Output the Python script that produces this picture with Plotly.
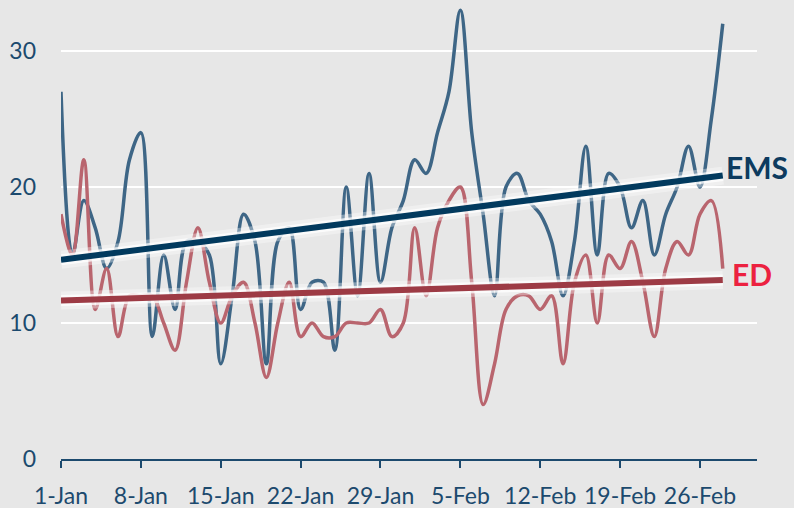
import numpy as np
import pandas as pd
import plotly.graph_objects as go

start_date = "2020-01-01"
n_days = 59
dates = pd.date_range(start_date, periods=n_days, freq="D")

ems = [27, 15, 19, 17, 14, 16, 22, 24, 9, 15,
       11, 16, 16, 15, 7, 12, 18, 16, 7, 16,
       17, 11, 13, 13, 8, 20, 12, 21, 13, 17,
       19, 22, 21, 24, 27, 33, 24, 18, 12, 20,
       21, 19, 18, 16, 12, 16, 23, 15, 21, 20,
       17, 19, 15, 18, 20, 23, 20, 25, 32]

ed = [18, 15, 22, 11, 14, 9, 12, 12, 12, 10,
      8, 13, 17, 13, 10, 12, 13, 10, 6, 10,
      13, 9, 10, 9, 9, 10, 10, 10, 11, 9,
      10, 17, 12, 17, 19, 20, 13, 4, 7, 11,
      12, 12, 11, 12, 7, 13, 15, 10, 15, 14,
      16, 13, 9, 14, 16, 15, 18, 19, 14]

y_ticks = [0, 10, 20, 30]

C_EMS = "#3e6686"
C_ED = "#b9656e"
C_EMS_TREND = "#023a5e"
C_ED_TREND = "#9d3b45"
C_EMS_LABEL = "#0d3b5f"
C_ED_LABEL = "#ec2140"
C_AXIS = "#1c4a6e"
BG = "#e7e7e7"

idx = np.arange(n_days)


def trend(vals):
    k, b = np.polyfit(idx, np.array(vals, dtype=float), 1)
    return k * idx + b


ems_tr = trend(ems)
ed_tr = trend(ed)

fig = go.Figure()

# data series (smoothed)
fig.add_trace(go.Scatter(x=dates, y=ems, mode="lines",
                         line=dict(color=C_EMS, width=3.5, shape="spline", smoothing=1.0),
                         hoverinfo="skip"))
fig.add_trace(go.Scatter(x=dates, y=ed, mode="lines",
                         line=dict(color=C_ED, width=3.5, shape="spline", smoothing=1.0),
                         hoverinfo="skip"))

# trend lines with white glow
for tr, col in [(ed_tr, C_ED_TREND), (ems_tr, C_EMS_TREND)]:
    fig.add_trace(go.Scatter(x=[dates[0], dates[-1]], y=[tr[0], tr[-1]], mode="lines",
                             line=dict(color="rgba(255,255,255,0.35)", width=18),
                             hoverinfo="skip"))
    fig.add_trace(go.Scatter(x=[dates[0], dates[-1]], y=[tr[0], tr[-1]], mode="lines",
                             line=dict(color="rgba(255,255,255,0.75)", width=11),
                             hoverinfo="skip"))
    fig.add_trace(go.Scatter(x=[dates[0], dates[-1]], y=[tr[0], tr[-1]], mode="lines",
                             line=dict(color=col, width=6),
                             hoverinfo="skip"))

fig.add_annotation(x=dates[-1], y=ems_tr[-1], text="<b>EMS</b>", showarrow=False,
                   xanchor="left", yanchor="middle", xshift=1, yshift=9,
                   font=dict(family="Lato", size=30, color=C_EMS_LABEL))
fig.add_annotation(x=dates[-1], y=ed_tr[-1], text="<b>ED</b>", showarrow=False,
                   xanchor="left", yanchor="middle", xshift=7, yshift=6,
                   font=dict(family="Lato", size=30, color=C_ED_LABEL))

x_end = pd.Timestamp(start_date) + pd.Timedelta(days=61)

fig.update_layout(
    width=794, height=508,
    margin=dict(l=61, r=37, t=0, b=49),
    paper_bgcolor=BG, plot_bgcolor=BG,
    showlegend=False,
    font=dict(family="Lato", size=23, color=C_AXIS),
    xaxis=dict(
        type="date", automargin=False,
        range=[pd.Timestamp(start_date), x_end],
        tick0=start_date, dtick=7 * 86400000,
        tickformat="%-d-%b",
        showgrid=False, zeroline=False,
        showline=True, linecolor=C_AXIS, linewidth=2,
        ticks="outside", ticklen=7, tickwidth=2, tickcolor=C_AXIS,
        ticklabelstandoff=8,
        tickfont=dict(family="Lato", size=23, color=C_AXIS),
    ),
    yaxis=dict(
        automargin=False,
        range=[0, 33.75],
        tickvals=y_ticks,
        showgrid=True, gridcolor="white", gridwidth=2,
        zeroline=False, showline=False, ticks="",
        ticklabelstandoff=24,
        tickfont=dict(family="Lato", size=23, color=C_AXIS),
    ),
)

fig.write_html("out.html",
               config={"displayModeBar": False, "staticPlot": True},
               post_script="document.body.style.margin='0';document.body.style.background='%s';" % BG)
